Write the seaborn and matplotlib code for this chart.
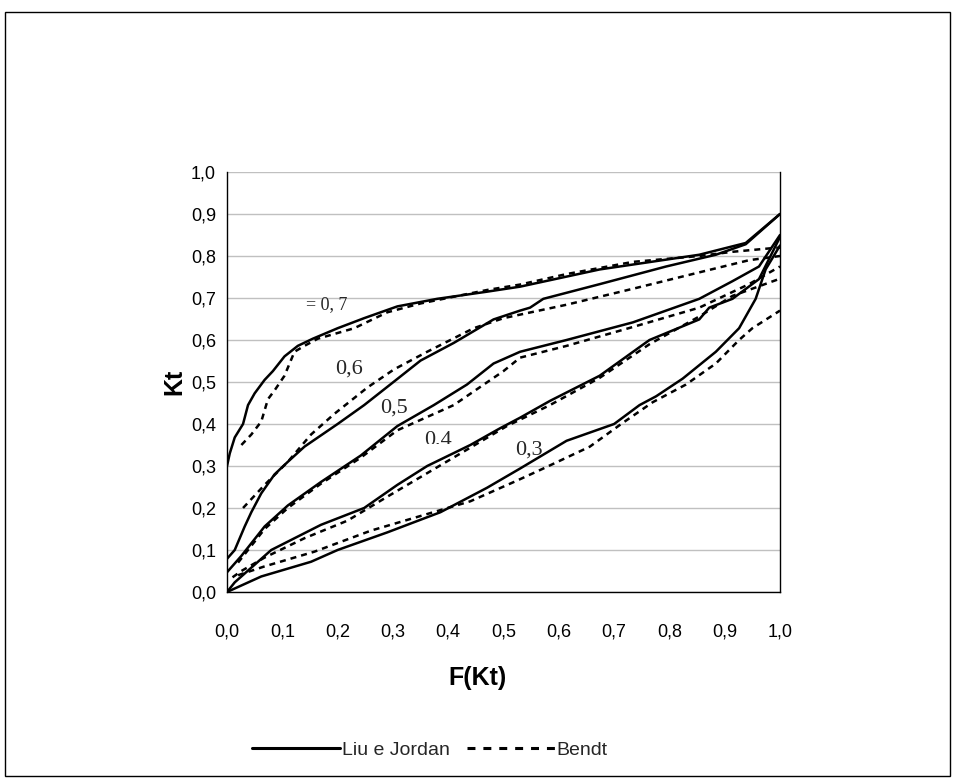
import numpy as np
import pandas as pd
import matplotlib
matplotlib.use("Agg")
import matplotlib.pyplot as plt
from matplotlib.patches import Rectangle
from matplotlib.lines import Line2D
import seaborn as sns

sns.set_theme(style="white")
plt.rcParams['font.family'] = ['Liberation Sans', 'DejaVu Sans']

# ---- data ----
lj07_x = [0, 0.005, 0.014, 0.029, 0.038, 0.05, 0.068, 0.083, 0.104, 0.128, 0.155, 0.2, 0.248, 0.308, 0.38, 0.47, 0.53, 0.674, 0.854, 0.938, 1.0]
lj07_y = [0.30, 0.33, 0.368, 0.40, 0.445, 0.473, 0.505, 0.526, 0.561, 0.586, 0.603, 0.628, 0.652, 0.68, 0.698, 0.715, 0.727, 0.768, 0.803, 0.831, 0.90]
bd07_x = [0.026, 0.044, 0.062, 0.074, 0.086, 0.104, 0.122, 0.14, 0.164, 0.23, 0.29, 0.35, 0.47, 0.53, 0.614, 0.734, 0.854, 0.914, 0.98, 1.0]
bd07_y = [0.35, 0.375, 0.406, 0.459, 0.48, 0.515, 0.572, 0.586, 0.603, 0.628, 0.666, 0.687, 0.719, 0.732, 0.757, 0.786, 0.80, 0.81, 0.818, 0.82]

lj06_x = [0, 0.014, 0.032, 0.044, 0.062, 0.086, 0.11, 0.14, 0.2, 0.248, 0.302, 0.35, 0.41, 0.446, 0.482, 0.53, 0.548, 0.572, 0.674, 0.794, 0.884, 0.938, 1.0]
lj06_y = [0.079, 0.10, 0.156, 0.19, 0.235, 0.28, 0.31, 0.346, 0.40, 0.445, 0.501, 0.551, 0.593, 0.621, 0.649, 0.67, 0.677, 0.698, 0.733, 0.775, 0.803, 0.828, 0.90]
bd06_x = [0.029, 0.068, 0.11, 0.152, 0.194, 0.254, 0.302, 0.362, 0.446, 0.5, 0.614, 0.734, 0.854, 0.944, 1.0]
bd06_y = [0.20, 0.255, 0.31, 0.375, 0.424, 0.487, 0.53, 0.572, 0.628, 0.652, 0.684, 0.722, 0.761, 0.79, 0.80]

lj05_x = [0, 0.026, 0.068, 0.11, 0.17, 0.242, 0.308, 0.374, 0.434, 0.482, 0.53, 0.614, 0.734, 0.854, 0.914, 0.962, 1.0]
lj05_y = [0.047, 0.086, 0.156, 0.206, 0.262, 0.325, 0.395, 0.445, 0.494, 0.544, 0.572, 0.60, 0.642, 0.698, 0.74, 0.775, 0.85]
bd05_x = [0.02, 0.068, 0.11, 0.17, 0.242, 0.308, 0.41, 0.5, 0.53, 0.614, 0.734, 0.854, 0.944, 1.0]
bd05_y = [0.07, 0.15, 0.20, 0.258, 0.32, 0.385, 0.445, 0.526, 0.558, 0.586, 0.631, 0.677, 0.733, 0.775]

lj04_x = [0, 0.014, 0.08, 0.17, 0.248, 0.308, 0.362, 0.44, 0.494, 0.53, 0.584, 0.674, 0.764, 0.854, 0.872, 0.914, 0.962, 1.0]
lj04_y = [0.0, 0.023, 0.10, 0.16, 0.20, 0.255, 0.30, 0.35, 0.39, 0.415, 0.455, 0.515, 0.60, 0.649, 0.677, 0.698, 0.745, 0.845]
bd04_x = [0.01, 0.026, 0.068, 0.14, 0.218, 0.29, 0.38, 0.506, 0.584, 0.674, 0.764, 0.854, 0.914, 1.0]
bd04_y = [0.035, 0.05, 0.082, 0.128, 0.17, 0.227, 0.297, 0.395, 0.445, 0.51, 0.59, 0.656, 0.705, 0.746]

lj03_x = [0, 0.062, 0.152, 0.2, 0.29, 0.386, 0.47, 0.53, 0.614, 0.70, 0.746, 0.776, 0.824, 0.884, 0.926, 0.956, 0.974, 1.0]
lj03_y = [0.0, 0.037, 0.072, 0.10, 0.142, 0.19, 0.248, 0.294, 0.36, 0.40, 0.445, 0.466, 0.508, 0.572, 0.628, 0.698, 0.768, 0.825]
bd03_x = [0.02, 0.068, 0.158, 0.26, 0.35, 0.44, 0.524, 0.572, 0.656, 0.716, 0.77, 0.83, 0.884, 0.926, 0.95, 1.0]
bd03_y = [0.04, 0.061, 0.096, 0.146, 0.181, 0.216, 0.265, 0.294, 0.346, 0.403, 0.452, 0.494, 0.544, 0.60, 0.628, 0.67]

curve_labels = ["= 0, 7", "0,6", "0,5", "0,4", "0,3"]
x_ticks = [0.0, 0.1, 0.2, 0.3, 0.4, 0.5, 0.6, 0.7, 0.8, 0.9, 1.0]
tick_labels = ["0,0", "0,1", "0,2", "0,3", "0,4", "0,5", "0,6", "0,7", "0,8", "0,9", "1,0"]

series = [
    ("0.7", "Liu e Jordan", lj07_x, lj07_y), ("0.7", "Bendt", bd07_x, bd07_y),
    ("0.6", "Liu e Jordan", lj06_x, lj06_y), ("0.6", "Bendt", bd06_x, bd06_y),
    ("0.5", "Liu e Jordan", lj05_x, lj05_y), ("0.5", "Bendt", bd05_x, bd05_y),
    ("0.4", "Liu e Jordan", lj04_x, lj04_y), ("0.4", "Bendt", bd04_x, bd04_y),
    ("0.3", "Liu e Jordan", lj03_x, lj03_y), ("0.3", "Bendt", bd03_x, bd03_y),
]

W, H = 955, 782
fig = plt.figure(figsize=(W / 100, H / 100), dpi=100)
fig.patch.set_facecolor("white")

x0, x1, y0, y1 = 227, 780, 172, 592
ax = fig.add_axes([x0 / W, 1 - y1 / H, (x1 - x0) / W, (y1 - y0) / H])

LW = 1.8
for kt, model, xs, ys in series:
    d = pd.DataFrame({"F": xs, "Kt": ys})
    sns.lineplot(data=d, x="F", y="Kt", ax=ax, color="black", lw=LW,
                 estimator=None, sort=False, legend=False)
    if model == "Bendt":
        ax.lines[-1].set_dashes((2.4, 2.0))

ax.set_xlim(0, 1.0)
ax.set_ylim(0, 1.0)
ax.set_xticks(x_ticks)
ax.set_xticklabels(tick_labels)
ax.set_yticks(x_ticks)
ax.set_yticklabels(tick_labels)
ax.tick_params(axis="both", direction="out", length=5, width=1, color="black",
               labelsize=13, labelcolor="black", pad=3)
ax.tick_params(axis="x", pad=18)
ax.grid(axis="y", color="#c0c0c0", lw=1)
ax.set_axisbelow(True)
for s in ["left", "bottom", "right"]:
    ax.spines[s].set_visible(True)
    ax.spines[s].set_color("black")
    ax.spines[s].set_linewidth(1)
ax.spines["top"].set_visible(False)

ax.set_xlabel("F(Kt)", fontsize=18, fontweight="bold", color="black")
ax.set_ylabel("Kt", fontsize=18, fontweight="bold", color="black")
ax.xaxis.set_label_coords((477 - x0) / (x1 - x0), -(666 - y1) / (y1 - y0))
ax.yaxis.set_label_coords(-(227 - 186) / (x1 - x0), 0.5)

# curve annotations
serif = ["Liberation Serif", "DejaVu Serif"]
ax.text(0.143, 0.665, curve_labels[0], family=serif, fontsize=13, ha="left", va="bottom")
ax.text(0.196, 0.508, curve_labels[1], family=serif, fontsize=16, ha="left", va="bottom")
ax.text(0.277, 0.415, curve_labels[2], family=serif, fontsize=16, ha="left", va="bottom")
t4 = ax.text(0.356, 0.385, curve_labels[3], family=serif, fontsize=16, ha="left", va="top")
t4.set_clip_on(True)
t4.set_clip_path(Rectangle((0.3, 0.352), 0.2, 0.1, transform=ax.transData))
ax.text(0.521, 0.315, curve_labels[4], family=serif, fontsize=16, ha="left", va="bottom")

# legend
handles = [Line2D([], [], color="black", lw=2.2),
           Line2D([], [], color="black", lw=2.2, dashes=(2.6, 2.6))]
fig.legend(handles, ["Liu e Jordan", "Bendt"], loc="center",
           bbox_to_anchor=(430 / W, 1 - 750 / H), ncol=2, frameon=False,
           fontsize=14, handlelength=4.5, handletextpad=0.1, columnspacing=0.9)

# outer frame
fig.add_artist(Rectangle((5 / W, 1 - 776 / H), 945 / W, 764 / H,
                         transform=fig.transFigure, fill=False,
                         edgecolor="black", lw=1))

fig.savefig("out.png", dpi=100, facecolor="white")
